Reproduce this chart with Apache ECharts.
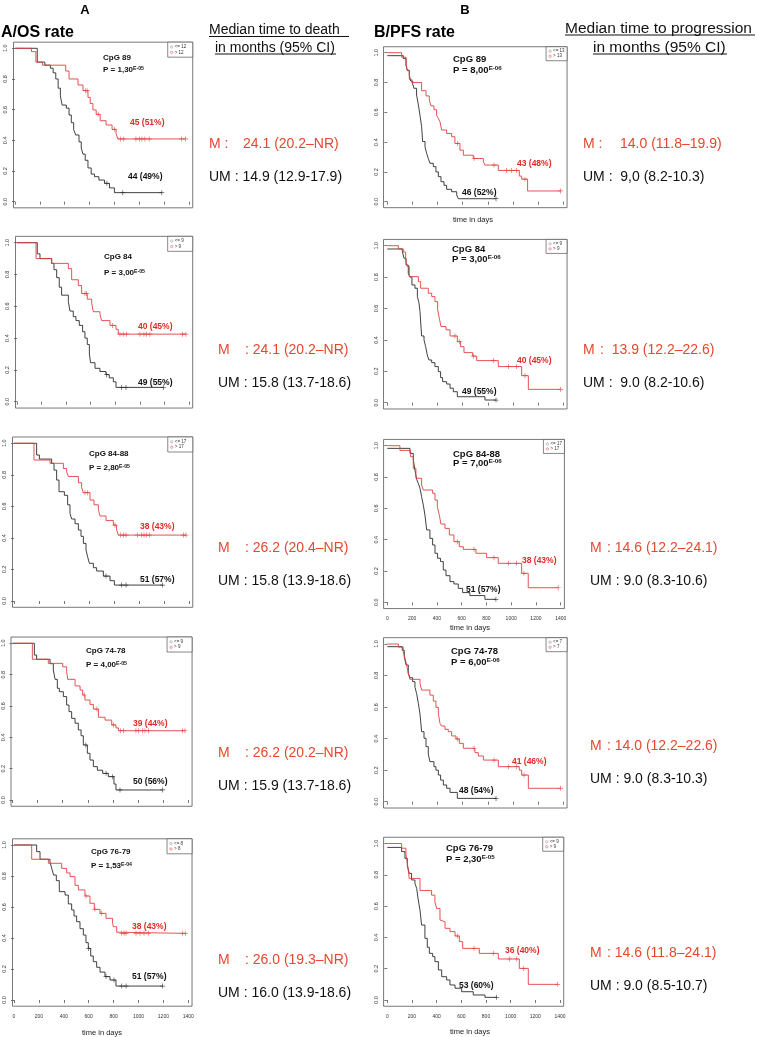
<!DOCTYPE html>
<html><head><meta charset="utf-8">
<script src="https://cdn.jsdelivr.net/npm/echarts@6/dist/echarts.min.js"></script>
<style>html,body{margin:0;padding:0;background:#fff}#c{width:757px;height:1037px}</style>
</head><body><div id="c"></div><script>
// ---------------- DATA ----------------
// Kaplan-Meier steps: [day, survival after that day]
const A1_black = [[0,1],[179,0.91],[240,0.89],[285,0.87],[307,0.84],[328,0.80],[347,0.74],[365,0.69],[379,0.63],[413,0.61],[435,0.565],[453,0.515],[472,0.47],[488,0.435],[515,0.39],[533,0.35],[547,0.31],[565,0.27],[587,0.22],[613,0.18],[640,0.163],[675,0.141],[720,0.12],[760,0.09],[800,0.059],[1181,0.059]];
const A1_red = [[0,1],[133,0.978],[168,0.91],[221,0.89],[408,0.852],[435,0.80],[507,0.761],[547,0.724],[587,0.68],[605,0.64],[627,0.598],[653,0.57],[685,0.528],[733,0.50],[781,0.472],[813,0.446],[827,0.409],[1373,0.409]];
const A1_black_cens = [739,867,1181];
const A1_red_cens = [568,580,669,800,848,875,973,1000,1021,1045,1080,1341,1373];

const A2_black = [[0,1],[165,0.93],[187,0.90],[282,0.87],[301,0.83],[323,0.78],[344,0.72],[363,0.67],[418,0.63],[431,0.57],[458,0.535],[480,0.51],[507,0.48],[534,0.44],[553,0.40],[572,0.36],[589,0.30],[599,0.245],[635,0.21],[675,0.19],[724,0.17],[751,0.15],[784,0.125],[806,0.09],[1191,0.09]];
const A2_red = [[0,1],[155,0.90],[282,0.87],[418,0.837],[445,0.767],[499,0.73],[526,0.68],[572,0.645],[608,0.62],[621,0.566],[675,0.55],[689,0.51],[757,0.48],[806,0.455],[824,0.425],[1375,0.425]];
const A2_black_cens = [730,852,887,1191];
const A2_red_cens = [553,567,778,838,865,892,1001,1033,1055,1082,1348,1375];

const A3_black = [[0,1],[181,0.926],[203,0.90],[301,0.873],[320,0.83],[341,0.767],[360,0.693],[403,0.67],[429,0.61],[448,0.556],[461,0.52],[488,0.49],[515,0.45],[536,0.41],[555,0.365],[576,0.323],[589,0.28],[603,0.239],[635,0.211],[661,0.19],[715,0.158],[768,0.129],[803,0.101],[1189,0.101]];
const A3_red = [[0,1],[160,0.894],[288,0.873],[395,0.84],[421,0.82],[435,0.789],[515,0.75],[541,0.72],[555,0.687],[608,0.64],[640,0.61],[675,0.58],[688,0.539],[736,0.51],[795,0.481],[821,0.45],[835,0.418],[1376,0.418]];
const A3_black_cens = [736,861,896,1189];
const A3_red_cens = [568,587,808,853,875,896,987,1021,1040,1061,1083,1355,1376];

const A4_black = [[0,1],[174,0.925],[192,0.898],[299,0.87],[325,0.83],[339,0.77],[357,0.713],[373,0.691],[405,0.66],[431,0.606],[450,0.564],[471,0.521],[498,0.49],[524,0.447],[546,0.41],[564,0.351],[596,0.298],[617,0.255],[644,0.213],[676,0.19],[718,0.17],[763,0.149],[808,0.102],[824,0.064],[1196,0.064]];
const A4_red = [[0,1],[158,0.898],[285,0.872],[400,0.85],[431,0.82],[440,0.77],[498,0.728],[538,0.702],[559,0.67],[577,0.638],[617,0.61],[644,0.58],[684,0.528],[737,0.51],[790,0.479],[824,0.46],[843,0.442],[1374,0.442]];
const A4_black_cens = [584,745,797,856,1196];
const A4_red_cens = [571,672,803,861,883,983,1005,1037,1055,1082,1355,1374];

const A5_black = [[0,1],[182,0.957],[209,0.908],[289,0.89],[303,0.85],[318,0.806],[340,0.77],[364,0.699],[410,0.677],[436,0.62],[463,0.581],[482,0.542],[503,0.505],[530,0.46],[557,0.419],[578,0.37],[597,0.333],[616,0.284],[637,0.247],[664,0.211],[691,0.18],[731,0.151],[771,0.129],[819,0.09],[1194,0.09]];
const A5_red = [[0,1],[142,0.908],[276,0.882],[383,0.849],[423,0.82],[450,0.796],[490,0.74],[517,0.71],[570,0.671],[610,0.624],[645,0.585],[691,0.559],[739,0.527],[792,0.495],[798,0.473],[825,0.437],[846,0.43],[1376,0.43]];
const A5_black_cens = [600,739,803,865,900,1194];
const A5_red_cens = [578,650,704,865,884,900,980,1012,1044,1079,1355,1376];

const B1_black = [[0,0.98],[127,0.96],[149,0.917],[159,0.88],[175,0.85],[186,0.81],[202,0.79],[212,0.761],[233,0.716],[247,0.65],[260,0.58],[273,0.504],[281,0.404],[300,0.369],[313,0.324],[326,0.29],[339,0.258],[366,0.235],[387,0.20],[406,0.168],[427,0.134],[451,0.11],[472,0.083],[512,0.067],[552,0.045],[565,0.02],[865,0.02]];
const B1_red = [[0,1],[114,0.97],[149,0.92],[159,0.883],[175,0.821],[194,0.80],[273,0.745],[308,0.71],[334,0.683],[347,0.643],[371,0.617],[392,0.58],[406,0.56],[419,0.537],[432,0.481],[472,0.458],[512,0.436],[538,0.391],[578,0.346],[605,0.312],[684,0.29],[764,0.268],[777,0.246],[883,0.21],[1050,0.172],[1069,0.151],[1116,0.072],[1379,0.072]];
const B1_black_cens = [865];
const B1_red_cens = [560,690,849,949,989,1029,1095,1379];

const B2_black = [[0,0.979],[119,0.966],[133,0.92],[149,0.877],[167,0.824],[180,0.80],[196,0.75],[220,0.729],[239,0.676],[252,0.637],[260,0.58],[273,0.425],[292,0.40],[305,0.357],[318,0.304],[331,0.272],[353,0.255],[379,0.23],[406,0.198],[424,0.16],[440,0.134],[472,0.119],[499,0.092],[525,0.07],[557,0.038],[777,0.017],[865,0.017]];
const B2_red = [[0,1],[88,0.98],[127,0.96],[146,0.909],[159,0.867],[175,0.803],[247,0.771],[265,0.729],[326,0.697],[353,0.676],[379,0.644],[400,0.595],[414,0.538],[427,0.485],[467,0.464],[499,0.425],[557,0.389],[583,0.357],[610,0.319],[679,0.297],[711,0.268],[883,0.23],[1069,0.172],[1122,0.085],[1379,0.085]];
const B2_black_cens = [865];
const B2_red_cens = [538,573,684,843,963,1029,1095,1379];

const B3_black = [[0,0.983],[183,0.951],[210,0.909],[223,0.845],[237,0.785],[250,0.76],[264,0.728],[277,0.674],[291,0.62],[304,0.557],[318,0.462],[344,0.408],[366,0.366],[385,0.313],[406,0.281],[430,0.26],[452,0.206],[474,0.17],[506,0.132],[538,0.117],[573,0.089],[608,0.062],[667,0.043],[788,0.019],[877,0.019]];
const B3_red = [[0,1],[102,0.97],[188,0.93],[210,0.855],[231,0.792],[277,0.749],[291,0.717],[366,0.696],[385,0.653],[404,0.611],[420,0.557],[433,0.50],[466,0.472],[501,0.43],[538,0.387],[581,0.355],[614,0.338],[716,0.313],[802,0.285],[896,0.249],[1085,0.185],[1138,0.093],[1380,0.093]];
const B3_black_cens = [877];
const B3_red_cens = [565,700,861,977,1044,1103,1380];

const B4_black = [[0,0.983],[119,0.96],[135,0.92],[149,0.867],[167,0.814],[180,0.786],[202,0.761],[220,0.725],[233,0.687],[247,0.624],[260,0.556],[273,0.444],[292,0.402],[308,0.349],[326,0.302],[339,0.254],[371,0.222],[387,0.20],[406,0.169],[424,0.137],[446,0.106],[472,0.085],[499,0.059],[557,0.021],[865,0.021]];
const B4_red = [[0,1],[88,0.98],[127,0.951],[141,0.909],[154,0.867],[167,0.814],[180,0.776],[260,0.75],[273,0.708],[339,0.676],[366,0.638],[387,0.598],[406,0.56],[419,0.497],[432,0.48],[459,0.459],[485,0.444],[512,0.417],[546,0.398],[573,0.37],[605,0.339],[697,0.311],[724,0.29],[764,0.264],[883,0.222],[1050,0.20],[1069,0.169],[1122,0.085],[1379,0.085]];
const B4_black_cens = [865];
const B4_red_cens = [557,690,849,963,1029,1088,1379];

const B5_black = [[0,0.975],[116,0.948],[143,0.905],[162,0.86],[178,0.809],[197,0.767],[224,0.746],[238,0.713],[251,0.639],[265,0.575],[278,0.479],[305,0.394],[324,0.337],[341,0.298],[368,0.277],[386,0.245],[414,0.192],[441,0.149],[481,0.128],[508,0.096],[549,0.075],[603,0.053],[697,0.032],[792,0.017],[886,0.017]];
const B5_red = [[0,1],[116,0.97],[151,0.93],[162,0.88],[178,0.777],[265,0.70],[359,0.67],[386,0.628],[400,0.585],[427,0.511],[441,0.50],[468,0.458],[508,0.437],[549,0.409],[584,0.373],[611,0.33],[746,0.298],[900,0.262],[1070,0.202],[1143,0.10],[1380,0.10]];
const B5_black_cens = [886];
const B5_red_cens = [568,703,859,989,1049,1103,1380];

const xTicks = [0,200,400,600,800,1000,1200,1400];
const yTicks = [0,0.2,0.4,0.6,0.8,1.0];

const cpgNames = ['CpG 89','CpG 84','CpG 84-88','CpG 74-78','CpG 76-79','CpG 89','CpG 84','CpG 84-88','CpG 74-78','CpG 76-79'];
const pMantissa = ['1,30','3,00','2,80','4,00','1,53','8,00','3,00','7,00','6,00','2,30'];
const pExponent = ['E-05','E-05','E-05','E-05','E-04','E-06','E-06','E-06','E-06','E-05'];
const cutoffs = ['12','9','17','9','8','13','9','17','7','9'];
const redCounts = ['45 (51%)','40 (45%)','38 (43%)','39 (44%)','38 (43%)','43 (48%)','40 (45%)','38 (43%)','41 (46%)','36 (40%)'];
const blackCounts = ['44 (49%)','49 (55%)','51 (57%)','50 (56%)','51 (57%)','46 (52%)','49 (55%)','51 (57%)','48 (54%)','53 (60%)'];

const osMLabel = ['M :','M','M','M','M'];
const osMValue = ['24.1 (20.2–NR)',': 24.1 (20.2–NR)',': 26.2 (20.4–NR)',': 26.2 (20.2–NR)',': 26.0 (19.3–NR)'];
const osUM = ['UM : 14.9 (12.9-17.9)','UM : 15.8 (13.7-18.6)','UM : 15.8 (13.9-18.6)','UM : 15.9 (13.7-18.6)','UM : 16.0 (13.9-18.6)'];
const pfsMLabel = ['M :','M','M','M','M'];
const pfsMValue = ['14.0 (11.8–19.9)',':  13.9 (12.2–22.6)',': 14.6 (12.2–24.1)',': 14.0 (12.2–22.6)',': 14.6 (11.8–24.1)'];
const pfsUM = ['UM :  9,0 (8.2-10.3)','UM :  9.0 (8.2-10.6)','UM : 9.0 (8.3-10.6)','UM : 9.0 (8.3-10.3)','UM : 9.0 (8.5-10.7)'];

const blackSeries = [A1_black,A2_black,A3_black,A4_black,A5_black,B1_black,B2_black,B3_black,B4_black,B5_black];
const redSeries = [A1_red,A2_red,A3_red,A4_red,A5_red,B1_red,B2_red,B3_red,B4_red,B5_red];
const blackCens = [A1_black_cens,A2_black_cens,A3_black_cens,A4_black_cens,A5_black_cens,B1_black_cens,B2_black_cens,B3_black_cens,B4_black_cens,B5_black_cens];
const redCens = [A1_red_cens,A2_red_cens,A3_red_cens,A4_red_cens,A5_red_cens,B1_red_cens,B2_red_cens,B3_red_cens,B4_red_cens,B5_red_cens];

// ---------------- LAYOUT ----------------
// pixel of day 0, day 1400, survival 1.0, survival 0.0
const layout = [
  {x0:15,x14:189,y1:48.3,y0:201.7,col:'A'},
  {x0:17,x14:189,y1:242.7,y0:401.7,col:'A'},
  {x0:14,x14:189,y1:443.3,y0:601,col:'A'},
  {x0:12.5,x14:188.3,y1:643.3,y0:800,col:'A'},
  {x0:14,x14:188.3,y1:845,y0:1000,col:'A'},
  {x0:387.3,x14:563.3,y1:52.7,y0:201.7,col:'B'},
  {x0:387.3,x14:563.3,y1:245.7,y0:402.7,col:'B'},
  {x0:387.3,x14:560.7,y1:445.7,y0:602.3,col:'B'},
  {x0:387.3,x14:563.3,y1:644,y0:801.7,col:'B'},
  {x0:387.3,x14:560,y1:843.5,y0:1000,col:'B'}
];
const xRange = {A:[-12,1430], B:[-30,1430]};
const showXLabels = [false,false,false,false,true,false,false,true,false,true];
const showXTitle = [false,false,false,false,true,true,false,true,false,true];
const xTitlePos = [null,null,null,null,[102,1033],[473,220],null,[470,628],null,[470,1032]];
const titlePos = [[103,58,70],[104,257,273],[89,454,468],[86,651,665],[91,852,866],[453,59,70],[452,249,259],[453,454,463],[451,651,662],[446,848,859]];
const redLabPos = [[130,123],[138,327],[140,527],[133,724],[132,927],[517,164],[517,361],[522,561],[512,762],[505,951]];
const blackLabPos = [[128,177],[138,383],[140,580],[133,782],[132,977],[462,193],[462,392],[466,590],[459,791],[459,986]];
const osRows = [[209,243,144,177],[218,245,350,383],[218,245,548,581],[218,245,753,786],[218,245,960,993]];
const pfsRows = [[583,620,144,177],[583,600,350,383],[590,607,548,581],[590,607,746,779],[590,607,953,986]];

const FONT = '"Liberation Sans", Arial, Helvetica, sans-serif';
const RED_LINE = '#e2403f';
const RED_TEXT = '#e12a26';
const MED_RED = '#e5482e';
const BLACK_LINE = '#2b2b2b';
const PLUS = 'path://M4.3,0h1.4v10h-1.4z M0,4.3h10v1.4h-10z';

function survAt(curve, t) {
  let s = curve[0][1];
  for (const p of curve) { if (p[0] <= t) s = p[1]; }
  return s;
}

const grids = [], xAxes = [], yAxes = [], series = [], gfx = [];
function txt(x, y, text, font, fill, align, extra) {
  gfx.push(Object.assign({type:'text', z:100, x:x, y:y, style:{text:text, font:font, fill:fill, align:align||'left', verticalAlign:'middle'}}, extra||{}));
}
function line(x1,y1,x2,y2,stroke,w){
  gfx.push({type:'line', z:100, shape:{x1,y1,x2,y2}, style:{stroke:stroke, lineWidth:w}});
}

layout.forEach((L, i) => {
  const k = (L.x14 - L.x0) / 1400;
  const [xmin, xmax] = xRange[L.col];
  const h = L.y0 - L.y1;
  const left = L.x0 + xmin * k;
  const width = (xmax - xmin) * k;
  const top = L.y1 - 0.04 * h;
  const height = 1.08 * h;
  grids.push({left:left, top:top, width:width, height:height, show:true, borderColor:'#555', borderWidth:0.8, backgroundColor:'transparent'});
  xAxes.push({gridIndex:i, type:'value', min:xmin, max:xmax,
    axisLine:{show:false}, splitLine:{show:false},
    axisTick:{show:true, inside:false, length:3, customValues:xTicks, lineStyle:{color:'#555', width:0.8}},
    axisLabel:{show:showXLabels[i], customValues:xTicks, formatter:v=>String(v), fontSize:5, color:'#333', margin:8, fontFamily:FONT}});
  yAxes.push({gridIndex:i, type:'value', min:-0.04, max:1.04,
    axisLine:{show:false}, splitLine:{show:false},
    axisTick:{show:true, inside:false, length:3, customValues:yTicks, lineStyle:{color:'#555', width:0.8}},
    axisLabel:{show:true, customValues:yTicks, formatter:v=>v.toFixed(1), rotate:90, fontSize:5.5, color:'#333', margin:L.col==='A'?5:4.5, fontFamily:FONT}});
  const bk = blackSeries[i], rd = redSeries[i];
  series.push({type:'line', xAxisIndex:i, yAxisIndex:i, data:bk, step:'end', symbol:'none', silent:true, lineStyle:{color:BLACK_LINE, width:0.9}, z:3});
  series.push({type:'line', xAxisIndex:i, yAxisIndex:i, data:rd, step:'end', symbol:'none', silent:true, lineStyle:{color:RED_LINE, width:0.9}, z:4});
  series.push({type:'scatter', xAxisIndex:i, yAxisIndex:i, data:blackCens[i].map(t=>[t, survAt(bk,t)]), symbol:PLUS, symbolSize:5, silent:true, itemStyle:{color:BLACK_LINE}, z:5});
  series.push({type:'scatter', xAxisIndex:i, yAxisIndex:i, data:redCens[i].map(t=>[t, survAt(rd,t)]), symbol:PLUS, symbolSize:5, silent:true, itemStyle:{color:RED_LINE}, z:5});

  // legend box
  const lw = L.col==='A' ? 25 : 21, lh = L.col==='A' ? 15 : 14;
  const lx = left + width - lw, ly = top;
  gfx.push({type:'rect', z:100, shape:{x:lx, y:ly, width:lw, height:lh}, style:{fill:'#fff', stroke:'#555', lineWidth:0.7}});
  gfx.push({type:'circle', z:101, shape:{cx:lx+4, cy:ly+lh*0.32, r:1.2}, style:{fill:'none', stroke:'#888', lineWidth:0.5}});
  gfx.push({type:'circle', z:101, shape:{cx:lx+4, cy:ly+lh*0.68, r:1.2}, style:{fill:'none', stroke:RED_LINE, lineWidth:0.5}});
  txt(lx+7, ly+lh*0.32, '<= ' + cutoffs[i], '4.5px '+FONT, '#333');
  txt(lx+7, ly+lh*0.68, '> ' + cutoffs[i], '4.5px '+FONT, '#333');

  // title + p value
  const tf = L.col==='A' ? 8 : 9.5;
  const tp = titlePos[i];
  txt(tp[0], tp[1], cpgNames[i], 'bold '+tf+'px '+FONT, '#111');
  gfx.push({type:'text', z:100, x:tp[0], y:tp[2], style:{
    text:'{a|P = ' + pMantissa[i] + '}{b|' + pExponent[i] + '}', verticalAlign:'middle', align:'left',
    rich:{a:{font:'bold '+tf+'px '+FONT, fill:'#111'}, b:{font:'bold '+(tf*0.65).toFixed(1)+'px '+FONT, fill:'#111', verticalAlign:'top'}}}});

  // group counts
  txt(redLabPos[i][0], redLabPos[i][1], redCounts[i], 'bold 8.5px '+FONT, RED_TEXT);
  txt(blackLabPos[i][0], blackLabPos[i][1], blackCounts[i], 'bold 8.5px '+FONT, '#111');

  if (showXTitle[i]) txt(xTitlePos[i][0], xTitlePos[i][1], 'time in days', '7.5px '+FONT, '#222', 'center');
});

// headers
txt(85, 10, 'A', 'bold 13px '+FONT, '#000', 'center');
txt(465, 10, 'B', 'bold 13px '+FONT, '#000', 'center');
txt(1, 33, 'A/OS rate', 'bold 16px '+FONT, '#000');
txt(374, 33, 'B/PFS rate', 'bold 16px '+FONT, '#000');

txt(209, 30, 'Median time to death', '14px '+FONT, '#111');
line(209, 36.5, 349, 36.5, '#111', 1);
txt(215, 48, 'in months (95% CI)', '14px '+FONT, '#111');
line(215, 54, 336, 54, '#111', 1);
txt(565, 28.5, 'Median time to progression', '15.5px '+FONT, '#111');
line(565, 35, 755, 35, '#111', 1);
txt(593, 48, 'in months (95% CI)', '15.5px '+FONT, '#111');
line(593, 54, 727, 54, '#111', 1);

osRows.forEach((r, j) => {
  txt(r[0], r[2], osMLabel[j], '14px '+FONT, MED_RED);
  txt(r[1], r[2], osMValue[j], '14px '+FONT, MED_RED);
  txt(r[0], r[3], osUM[j], '14px '+FONT, '#111');
});
pfsRows.forEach((r, j) => {
  txt(r[0], r[2], pfsMLabel[j], '14px '+FONT, MED_RED);
  txt(r[1], r[2], pfsMValue[j], '14px '+FONT, MED_RED);
  txt(r[0], r[3], pfsUM[j], '14px '+FONT, '#111');
});

const chart = echarts.init(document.getElementById('c'), null, {renderer:'canvas'});
chart.setOption({
  animation:false,
  backgroundColor:'#fff',
  grid:grids, xAxis:xAxes, yAxis:yAxes, series:series,
  graphic:{elements:gfx}
});
</script></body></html>
